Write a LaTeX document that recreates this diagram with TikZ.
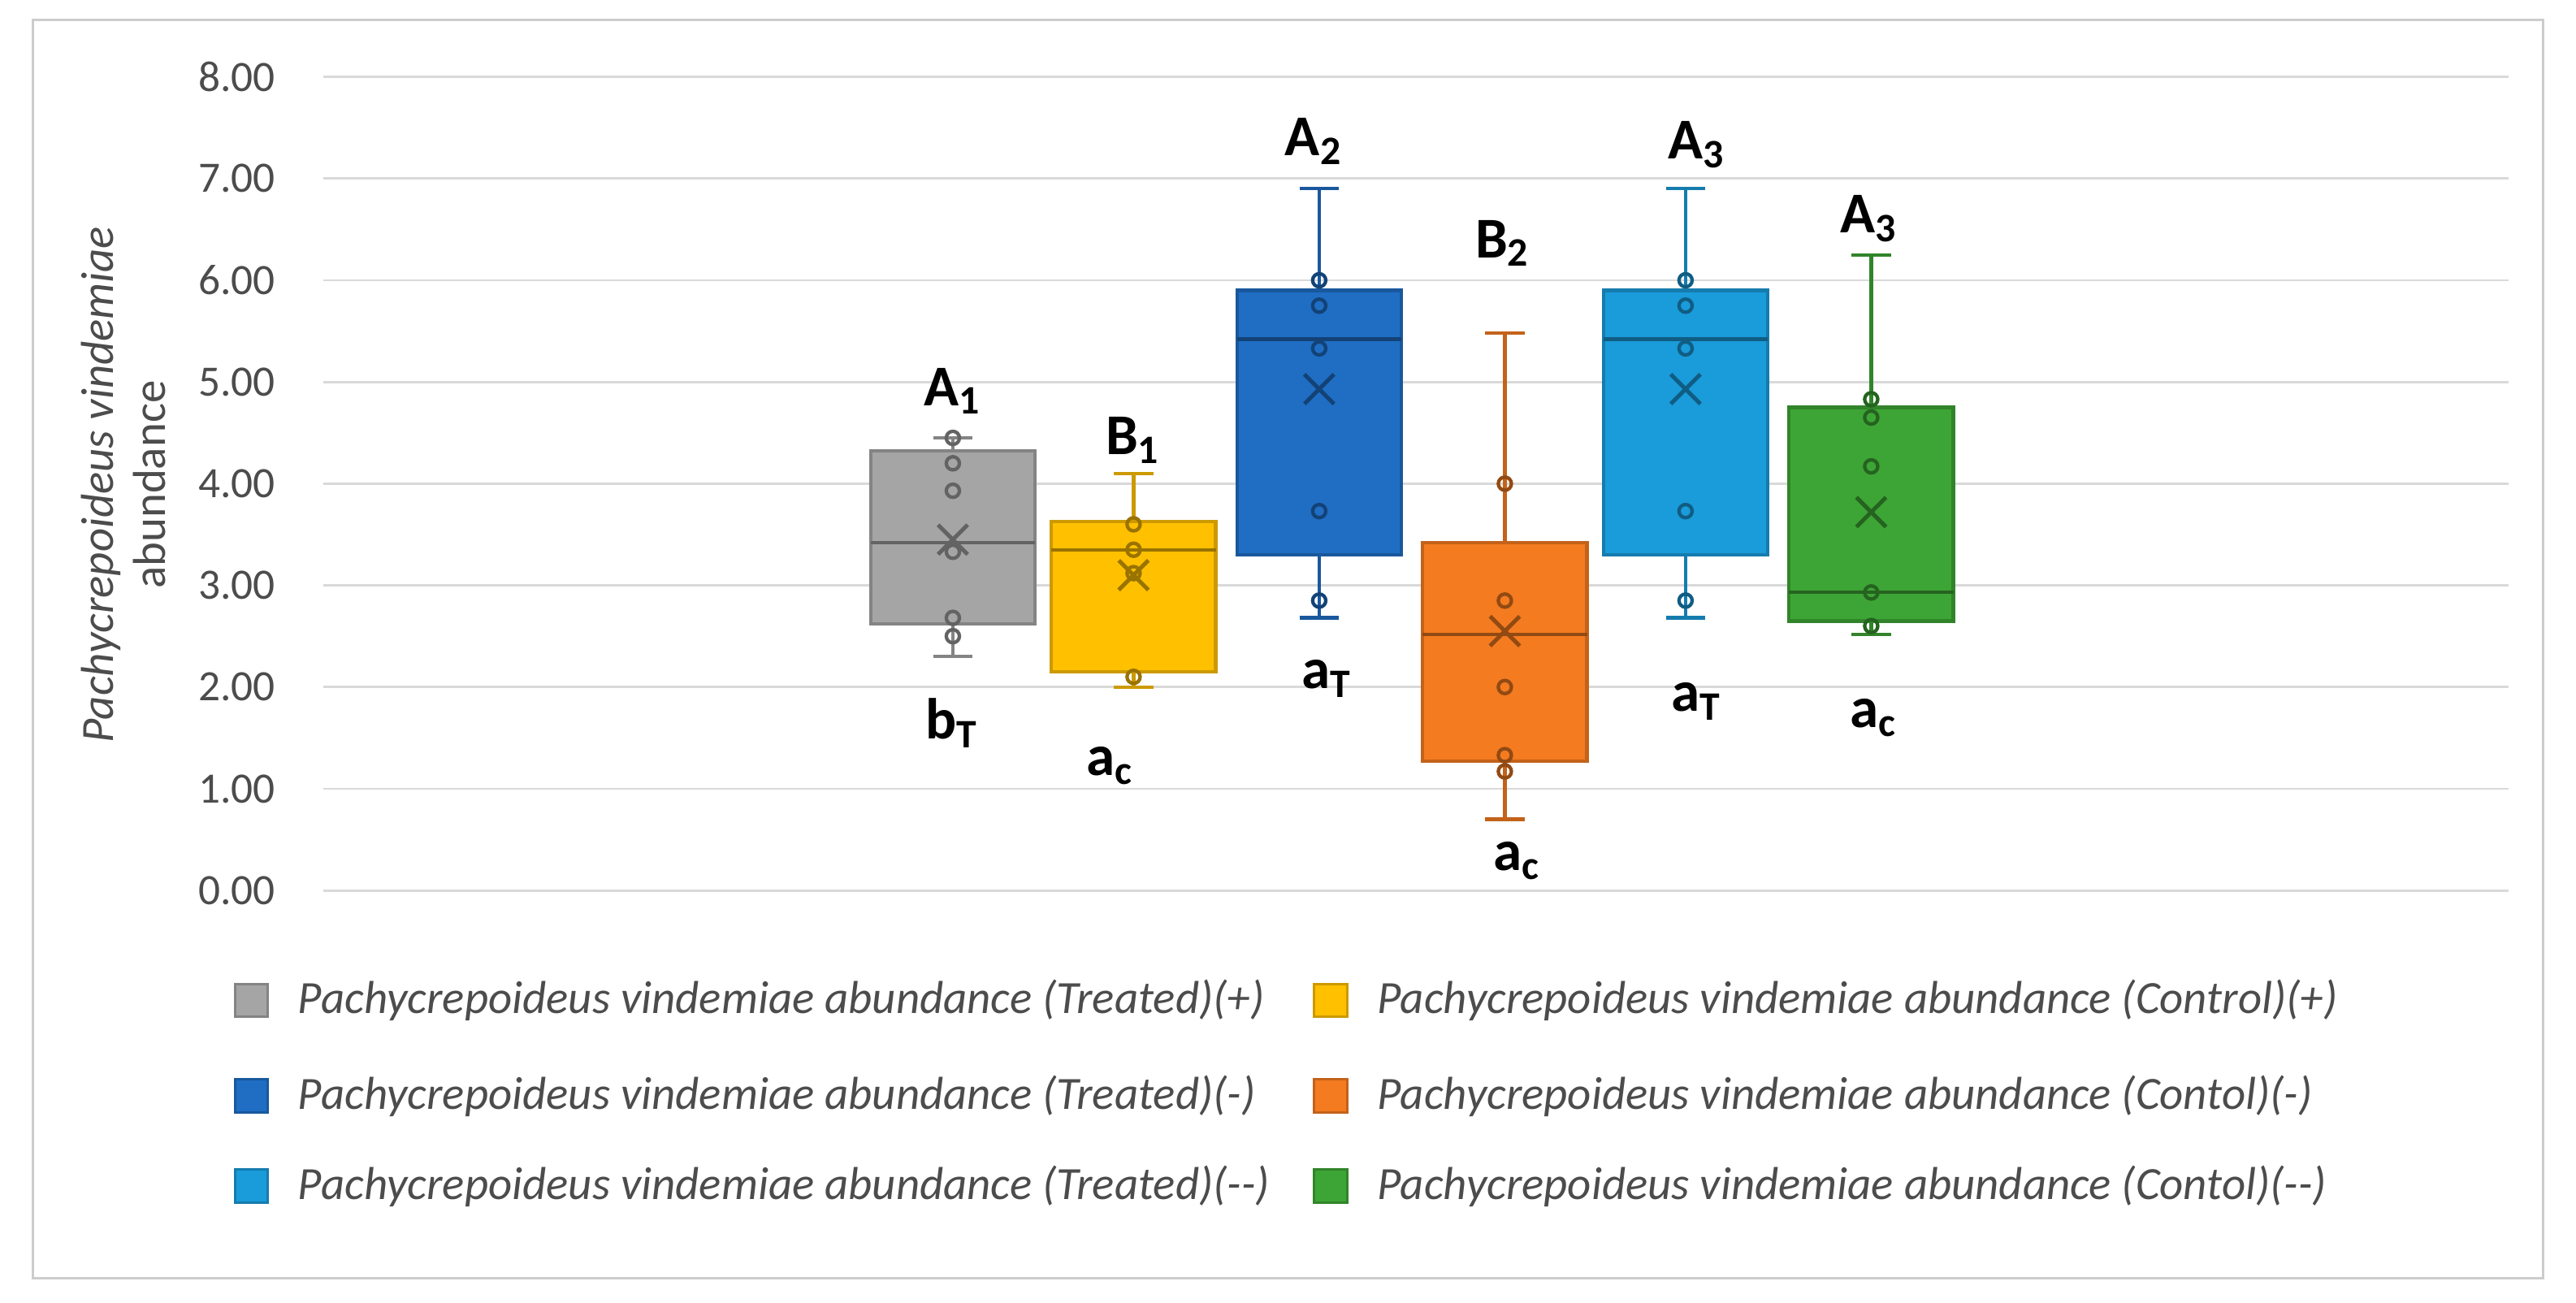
\documentclass[tikz,border=0pt]{standalone}
\usepackage{fontspec}
\setmainfont{Carlito}
\definecolor{cgray}{HTML}{A5A5A5}
\definecolor{cyel}{HTML}{FFC000}
\definecolor{cdb}{HTML}{1F6EC4}
\definecolor{cor}{HTML}{F47B20}
\definecolor{clb}{HTML}{1A9BDA}
\definecolor{cgr}{HTML}{3DA535}
\newcommand{\Y}[1]{542-61.9*#1}
% \bx{color}{center}{wlo}{q1}{med}{q3}{whi}{mean}{points}
\newcommand{\bx}[9]{%
 \draw[#1!80!black,line width=0.6pt] (#2,{\Y{#3}}) -- (#2,{\Y{#4}}) (#2,{\Y{#6}}) -- (#2,{\Y{#7}})
   (#2-12,{\Y{#3}}) -- (#2+12,{\Y{#3}}) (#2-12,{\Y{#7}}) -- (#2+12,{\Y{#7}});
 \draw[fill=#1,draw=#1!80!black,line width=0.6pt] (#2-50,{\Y{#4}}) rectangle (#2+50,{\Y{#6}});
 \draw[#1!60!black,line width=0.6pt] (#2-50,{\Y{#5}}) -- (#2+50,{\Y{#5}});
 \draw[#1!60!black,line width=0.7pt] (#2-9,{\Y{#8}-9}) -- (#2+9,{\Y{#8}+9}) (#2-9,{\Y{#8}+9}) -- (#2+9,{\Y{#8}-9});
 \foreach \p in {#9} \draw[#1!60!black,line width=0.6pt] (#2,{\Y{\p}}) circle (4);
}
\begin{document}
\begin{tikzpicture}[x=0.1mm,y=-0.1mm,
  tick/.style={font=\fontsize{7.5}{8}\selectfont,text=black!70,anchor=east},
  lab/.style={font=\bfseries\fontsize{10}{11}\selectfont},
  leg/.style={font=\itshape\fontsize{8}{9}\selectfont,text=black!70,anchor=west}]
\useasboundingbox (0,0) rectangle (1568,793);
\draw[black!20] (20,12) rectangle (1548,778);
\foreach \v in {0,...,8} {
  \draw[black!15] (197,{\Y{\v}}) -- (1527,{\Y{\v}});
  \node[tick] at (180,{\Y{\v}}) {\v.00};
}
\node[rotate=90,font=\fontsize{8}{9}\selectfont,text=black!70,align=center] (yt) at (75,295) {\textit{Pachycrepoideus vindemiae}\\abundance};
\bx{cgray}{580}{2.3}{2.62}{3.42}{4.32}{4.45}{3.45}{4.45,4.2,3.93,3.33,2.68,2.5}
\bx{cyel}{690}{2.0}{2.15}{3.35}{3.63}{4.1}{3.1}{3.6,3.35,3.12,2.1}
\bx{cdb}{803}{2.68}{3.3}{5.42}{5.9}{6.9}{4.93}{6.0,5.75,5.33,3.73,2.85}
\bx{cor}{916}{0.7}{1.27}{2.52}{3.42}{5.48}{2.55}{4.0,2.85,2.0,1.33,1.17}
\bx{clb}{1026}{2.68}{3.3}{5.42}{5.9}{6.9}{4.93}{6.0,5.75,5.33,3.73,2.85}
\bx{cgr}{1139}{2.52}{2.65}{2.93}{4.75}{6.25}{3.72}{4.83,4.65,4.17,2.93,2.6}
\node[lab] (l1) at (580,238) {A$_{\mathbf 1}$};
\node[lab] (l2) at (690,268) {B$_{\mathbf 1}$};
\node[lab] (l3) at (800,86) {A$_{\mathbf 2}$};
\node[lab] (l4) at (915,148) {B$_{\mathbf 2}$};
\node[lab] (l5) at (1033,88) {A$_{\mathbf 3}$};
\node[lab] (l6) at (1138,133) {A$_{\mathbf 3}$};
\node[lab] (m1) at (580,440) {b$_{\mathbf T}$};
\node[lab] (m2) at (676,466) {a$_{\mathbf c}$};
\node[lab] (m3) at (808,413) {a$_{\mathbf T}$};
\node[lab] (m4) at (924,524) {a$_{\mathbf c}$};
\node[lab] (m5) at (1033,427) {a$_{\mathbf T}$};
\node[lab] (m6) at (1141,437) {a$_{\mathbf c}$};
\foreach \c/\x/\y/\t [count=\i] in {
 cgray/153/609/{Pachycrepoideus vindemiae abundance (Treated)(+)},
 cyel/810/609/{Pachycrepoideus vindemiae abundance (Control)(+)},
 cdb/153/667/{Pachycrepoideus vindemiae abundance (Treated)(-)},
 cor/810/667/{Pachycrepoideus vindemiae abundance (Contol)(-)},
 clb/153/722/{Pachycrepoideus vindemiae abundance (Treated)({-}{-})},
 cgr/810/722/{Pachycrepoideus vindemiae abundance (Contol)({-}{-})}} {
 \draw[fill=\c,draw=\c!80!black] (\x-10,\y-10) rectangle (\x+10,\y+10);
 \node[leg] (leg\i) at (\x+16,\y) {\t};
}
\end{tikzpicture}
\end{document}
